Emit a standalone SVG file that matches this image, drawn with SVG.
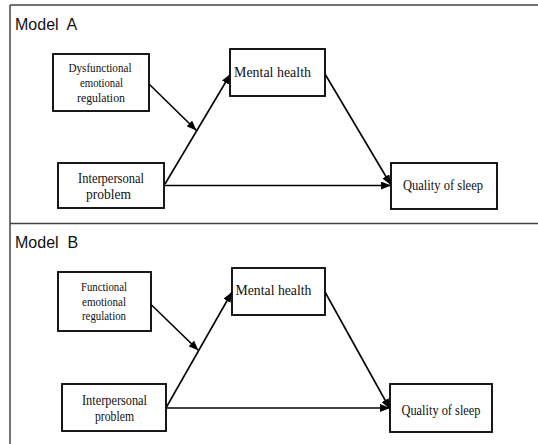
<svg xmlns="http://www.w3.org/2000/svg" width="538" height="444" viewBox="0 0 538 444">
<style>
.frame{stroke:#444;stroke-width:1.5;fill:none}
.box{fill:#fff;stroke:#000;stroke-width:1.8}
.lbl{font-family:"Liberation Serif","Times New Roman",serif;fill:#111;text-anchor:middle}
.sm{font-size:12.5px}
.md{font-size:14.5px}
.title{font-family:"Liberation Sans",Arial,sans-serif;font-size:16px;fill:#111;white-space:pre}
.conn{stroke:#000;stroke-width:1.6;fill:none;marker-end:url(#ah)}
</style>
<defs>
<marker id="ah" markerUnits="userSpaceOnUse" markerWidth="10" markerHeight="8" refX="10" refY="4" orient="auto">
<path d="M0,0 L10,4 L0,8 z" fill="#000"/>
</marker>
</defs>
<rect width="538" height="444" fill="#fff"/>
<g id="frame">
<line class="frame" x1="10" y1="5" x2="538" y2="5" stroke="#777"/>
<line class="frame" x1="10" y1="5" x2="10" y2="444"/>
<line class="frame" x1="10" y1="223.5" x2="538" y2="223.5"/>
</g>
<text class="title" x="15" y="30">Model  A</text>
<text class="title" x="15" y="248">Model  B</text>
<g id="connectors">
<line class="conn" x1="165" y1="184" x2="230.5" y2="74"/>
<line class="conn" x1="149" y1="84" x2="196.5" y2="130.5"/>
<line class="conn" x1="165" y1="185.5" x2="391" y2="185.5"/>
<line class="conn" x1="325" y1="74" x2="391" y2="185"/>
<line class="conn" x1="166.5" y1="407" x2="232" y2="292"/>
<line class="conn" x1="151" y1="304.5" x2="198.5" y2="350.5"/>
<line class="conn" x1="166.5" y1="408" x2="390" y2="408"/>
<line class="conn" x1="325" y1="292" x2="390" y2="409"/>
</g>
<g id="a-dysfunctional">
<rect class="box" x="53" y="54" width="96" height="57"/>
<text class="lbl sm" x="100" y="72" textLength="63" lengthAdjust="spacingAndGlyphs">Dysfunctional</text>
<text class="lbl sm" x="101.5" y="87" textLength="43" lengthAdjust="spacingAndGlyphs">emotional</text>
<text class="lbl sm" x="101" y="102" textLength="48" lengthAdjust="spacingAndGlyphs">regulation</text>
</g>
<g id="a-mental">
<rect class="box" x="230" y="49" width="95" height="47"/>
<text class="lbl md" x="272.5" y="77" textLength="77" lengthAdjust="spacingAndGlyphs">Mental health</text>
</g>
<g id="a-interpersonal">
<rect class="box" x="58" y="163" width="106" height="45"/>
<text class="lbl md" x="111" y="183" textLength="66" lengthAdjust="spacingAndGlyphs">Interpersonal</text>
<text class="lbl md" x="108.5" y="199" textLength="45" lengthAdjust="spacingAndGlyphs">problem</text>
</g>
<g id="a-quality">
<rect class="box" x="391" y="163" width="106" height="46"/>
<text class="lbl md" x="443" y="190" textLength="80" lengthAdjust="spacingAndGlyphs">Quality of sleep</text>
</g>
<g id="b-functional">
<rect class="box" x="58" y="272" width="93" height="59"/>
<text class="lbl sm" x="104" y="291" textLength="46" lengthAdjust="spacingAndGlyphs">Functional</text>
<text class="lbl sm" x="104" y="306" textLength="44" lengthAdjust="spacingAndGlyphs">emotional</text>
<text class="lbl sm" x="104" y="320" textLength="44" lengthAdjust="spacingAndGlyphs">regulation</text>
</g>
<g id="b-mental">
<rect class="box" x="232" y="268" width="93" height="47"/>
<text class="lbl md" x="273.5" y="295" textLength="76" lengthAdjust="spacingAndGlyphs">Mental health</text>
</g>
<g id="b-interpersonal">
<rect class="box" x="62" y="384" width="104" height="47"/>
<text class="lbl md" x="114.5" y="405" textLength="65" lengthAdjust="spacingAndGlyphs">Interpersonal</text>
<text class="lbl md" x="114.5" y="421" textLength="39" lengthAdjust="spacingAndGlyphs">problem</text>
</g>
<g id="b-quality">
<rect class="box" x="390" y="384" width="102" height="48"/>
<text class="lbl md" x="441" y="415" textLength="79" lengthAdjust="spacingAndGlyphs">Quality of sleep</text>
</g>
</svg>
